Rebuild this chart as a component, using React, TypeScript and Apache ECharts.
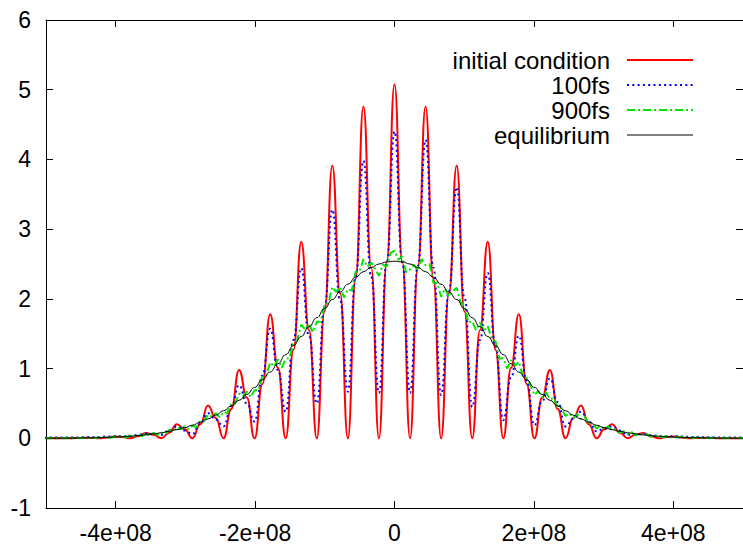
import React, { useEffect, useRef } from "react";
import * as echarts from "echarts";

// sample spacing of the tabulated curves (quarter of the fringe period)
const CURVE_STEP = 1.115e7;
const GREEN_STEP = 5.575e6;

const SERIES_NAMES = ["initial condition", "100fs", "900fs", "equilibrium"];
const SERIES_COLORS = ["#ff0000", "#0000ff", "#00e600", "#000000"];

const X_TICKS = [-4e8, -2e8, 0, 2e8, 4e8];
const X_TICK_LABELS = ["-4e+08", "-2e+08", "0", "2e+08", "4e+08"];

// initial condition, samples at x = (k-45)*CURVE_STEP
const RED_Y = [
  0.001, 0.002, 0.001, 0, 0.003, 0.007, 0.005, 0, 0.01, 0.026, 0.017, 0, 0.03, 0.075, 0.05, 0,
  0.08, 0.2, 0.13, 0, 0.2, 0.47, 0.29, 0, 0.42, 0.98, 0.58, 0, 0.78, 1.78, 1.01, 0, 1.27, 2.82,
  1.55, 0, 1.82, 3.91, 2.08, 0, 2.29, 4.76, 2.45, 0, 2.53,
  5.08,
  2.53, 0, 2.45, 4.76, 2.29, 0, 2.08, 3.91, 1.82, 0, 1.55, 2.82, 1.27, 0, 1.01, 1.78, 0.78, 0,
  0.58, 0.98, 0.42, 0, 0.29, 0.47, 0.2, 0, 0.13, 0.2, 0.08, 0, 0.05, 0.075, 0.03, 0, 0.017,
  0.026, 0.01, 0, 0.005, 0.007, 0.003, 0, 0.001, 0.002, 0.001,
];

// 100fs, same sampling
const BLUE_Y = [
  0.01, 0.01, 0.01, 0.01, 0.012, 0.015, 0.017, 0.02, 0.025, 0.03, 0.03, 0.03, 0.05, 0.07, 0.06,
  0.05, 0.11, 0.17, 0.11, 0.06, 0.21, 0.36, 0.27, 0.17, 0.46, 0.76, 0.5, 0.24, 0.9, 1.57, 0.98,
  0.38, 1.41, 2.44, 1.47, 0.5, 1.89, 3.28, 1.98, 0.67, 2.32, 3.98, 2.32, 0.65, 2.52,
  4.4,
  2.52, 0.65, 2.47, 4.28, 2.45, 0.62, 2.11, 3.6, 2.02, 0.45, 1.41, 2.37, 1.31, 0.26, 0.87, 1.47,
  0.83, 0.19, 0.53, 0.86, 0.52, 0.17, 0.28, 0.38, 0.24, 0.1, 0.14, 0.17, 0.11, 0.05, 0.055, 0.06,
  0.045, 0.03, 0.03, 0.03, 0.025, 0.02, 0.017, 0.015, 0.012, 0.01, 0.01, 0.01, 0.01,
];

// equilibrium, same sampling
const BLACK_Y = [
  0.001, 0.0015, 0.002, 0.0028, 0.004, 0.0054, 0.0073, 0.0098, 0.013, 0.0173, 0.0227, 0.0295,
  0.038, 0.049, 0.063, 0.079, 0.0995, 0.124, 0.153, 0.188, 0.229, 0.277, 0.332, 0.395, 0.465,
  0.545, 0.63, 0.73, 0.84, 0.95, 1.07, 1.2, 1.33, 1.46, 1.6, 1.73, 1.86, 1.99, 2.1, 2.21, 2.31,
  2.39, 2.45, 2.5, 2.53,
  2.54,
  2.53, 2.5, 2.45, 2.39, 2.31, 2.21, 2.1, 1.99, 1.86, 1.73, 1.6, 1.46, 1.33, 1.2, 1.07, 0.95, 0.84,
  0.73, 0.63, 0.545, 0.465, 0.395, 0.332, 0.277, 0.229, 0.188, 0.153, 0.124, 0.0995, 0.079, 0.063,
  0.049, 0.038, 0.0295, 0.0227, 0.0173, 0.013, 0.0098, 0.0073, 0.0054, 0.004, 0.0028, 0.002,
  0.0015, 0.001,
];

// 900fs, samples at x = (k-90)*GREEN_STEP
const GREEN_Y = [
  0.004, 0, 0.005, 0, 0.006, 0, 0.007, 0, 0.009, 0,
  0.011, 0.002, 0.013, 0.004, 0.016, 0.006, 0.02, 0.008, 0.025, 0.012,
  0.032, 0.015, 0.04, 0.024, 0.05, 0.028, 0.07, 0.04, 0.078, 0.05,
  0.085, 0.06, 0.12, 0.1, 0.16, 0.13, 0.17, 0.13, 0.18, 0.16,
  0.25, 0.25, 0.34, 0.31, 0.36, 0.3, 0.38, 0.36, 0.5, 0.5,
  0.64, 0.6, 0.67, 0.59, 0.69, 0.69, 0.89, 0.91, 1.09, 1.03,
  1.13, 1.01, 1.14, 1.15, 1.37, 1.41, 1.63, 1.56, 1.64, 1.52,
  1.67, 1.67, 1.91, 1.94, 2.17, 2.1, 2.17, 2.02, 2.14, 2.12,
  2.39, 2.39, 2.57, 2.46, 2.52, 2.43, 2.33, 2.49, 2.46, 2.66,
  2.69,
  2.56, 2.61, 2.38, 2.42, 2.49, 2.41, 2.57, 2.48, 2.5, 2.23,
  2.23, 2.03, 2.15, 2.03, 2.11, 2.16, 1.95, 1.9, 1.66, 1.68,
  1.55, 1.66, 1.54, 1.61, 1.43, 1.39, 1.14, 1.15, 1.0, 1.12,
  1.04, 1.1, 0.9, 0.87, 0.76, 0.62, 0.68, 0.59, 0.66, 0.56,
  0.58, 0.44, 0.43, 0.32, 0.36, 0.29, 0.35, 0.28, 0.31, 0.2,
  0.22, 0.14, 0.18, 0.13, 0.17, 0.11, 0.14, 0.08, 0.1, 0.06,
  0.09, 0.04, 0.07, 0.05, 0.06, 0.02, 0.04, 0.035, 0.016, 0.033,
  0.01, 0.027, 0.01, 0.023, 0.005, 0.018, 0.004, 0.014, 0.002, 0.012,
  0, 0.01, 0, 0.008, 0, 0.006, 0, 0.005, 0, 0.004,
];

const FONT = "'Liberation Sans', Arial, Helvetica, sans-serif";

function toPairs(ys: number[], step: number) {
  const half = (ys.length - 1) / 2;
  return ys.map((y, k) => [(k - half) * step, y]);
}

export default function App() {
  const ref = useRef<HTMLDivElement>(null);

  useEffect(() => {
    if (!ref.current) return;
    const chart = echarts.init(ref.current, undefined, { renderer: "svg" });

    const axisLine = { show: true, onZero: false, lineStyle: { color: "#000", width: 1 } };
    const tickStyle = { color: "#000", width: 1 };

    const legendRows = [60, 85, 110, 135];
    const legendDash: any[] = [null, [2, 3.3], [8, 3, 2, 3], null];
    const legendWidth = [2, 2, 2, 1];

    const graphic: any[] = [];
    SERIES_NAMES.forEach((name, i) => {
      graphic.push({
        type: "text",
        x: 610,
        y: legendRows[i],
        style: {
          text: name,
          fill: "#000",
          font: `24px ${FONT}`,
          textAlign: "right",
          textVerticalAlign: "middle",
        },
      });
      graphic.push({
        type: "line",
        shape: { x1: 627, y1: legendRows[i], x2: 693, y2: legendRows[i] },
        style: {
          stroke: SERIES_COLORS[i],
          lineWidth: legendWidth[i],
          lineDash: legendDash[i] || undefined,
        },
      });
    });

    chart.setOption({
      animation: false,
      grid: { left: 46, right: -3, top: 20, bottom: 36 },
      xAxis: [
        {
          type: "value",
          position: "bottom",
          min: -5e8,
          max: 5e8,
          axisLine,
          axisTick: { show: true, inside: true, length: 7, customValues: X_TICKS, lineStyle: tickStyle },
          axisLabel: {
            customValues: X_TICKS,
            formatter: (v: number) => {
              const idx = X_TICKS.indexOf(v);
              return idx >= 0 ? X_TICK_LABELS[idx] : "";
            },
            color: "#000",
            fontSize: 23,
            fontFamily: FONT,
            margin: 13,
          },
          splitLine: { show: false },
        },
        {
          type: "value",
          position: "top",
          min: -5e8,
          max: 5e8,
          axisLine,
          axisTick: { show: true, inside: true, length: 7, customValues: X_TICKS, lineStyle: tickStyle },
          axisLabel: { show: false },
          splitLine: { show: false },
        },
      ],
      yAxis: [
        {
          type: "value",
          position: "left",
          min: -1,
          max: 6,
          interval: 1,
          axisLine,
          axisTick: { show: true, inside: true, length: 7, lineStyle: tickStyle },
          axisLabel: { color: "#000", fontSize: 23, fontFamily: FONT, margin: 15 },
          splitLine: { show: false },
        },
        {
          type: "value",
          position: "right",
          min: -1,
          max: 6,
          interval: 1,
          axisLine,
          axisTick: { show: true, inside: true, length: 7, lineStyle: tickStyle },
          axisLabel: { show: false },
          splitLine: { show: false },
        },
      ],
      graphic,
      series: [
        {
          name: SERIES_NAMES[0],
          type: "line",
          data: toPairs(RED_Y, CURVE_STEP),
          showSymbol: false,
          symbol: "none",
          smooth: 0.5,
          smoothMonotone: "x",
          lineStyle: { color: SERIES_COLORS[0], width: 2 },
        },
        {
          name: SERIES_NAMES[1],
          type: "line",
          data: toPairs(BLUE_Y, CURVE_STEP),
          showSymbol: false,
          symbol: "none",
          smooth: 0.5,
          smoothMonotone: "x",
          lineStyle: { color: SERIES_COLORS[1], width: 2, type: [2, 3.3] },
        },
        {
          name: SERIES_NAMES[2],
          type: "line",
          data: toPairs(GREEN_Y, GREEN_STEP),
          showSymbol: false,
          symbol: "none",
          lineStyle: { color: SERIES_COLORS[2], width: 2, type: [8, 3, 2, 3] },
        },
        {
          name: SERIES_NAMES[3],
          type: "line",
          data: toPairs(BLACK_Y, CURVE_STEP),
          showSymbol: false,
          symbol: "none",
          smooth: 0.5,
          smoothMonotone: "x",
          lineStyle: { color: SERIES_COLORS[3], width: 1 },
        },
      ],
    });

    return () => chart.dispose();
  }, []);

  return (
    <div
      ref={ref}
      style={{ position: "absolute", left: 0, top: 0, width: 743, height: 544, background: "#fff" }}
    />
  );
}
